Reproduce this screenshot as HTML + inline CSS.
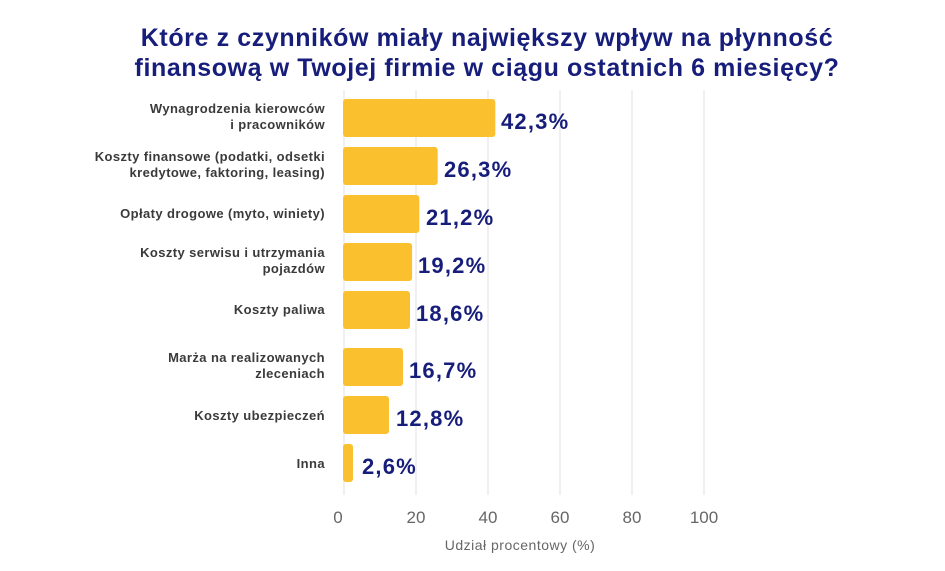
<!DOCTYPE html>
<html><head><meta charset="utf-8"><style>
body{margin:0;background:#fff;width:945px;height:566px;overflow:hidden;font-family:"Liberation Sans",sans-serif;}
</style></head><body>
<svg width="945" height="566" xmlns="http://www.w3.org/2000/svg" font-family="Liberation Sans, sans-serif">
<text x="487" y="46" text-anchor="middle" font-size="25" font-weight="bold" fill="#161d7a" letter-spacing="0.6">Które z czynników miały największy wpływ na płynność</text>
<text x="487" y="76" text-anchor="middle" font-size="25" font-weight="bold" fill="#161d7a" letter-spacing="0.6">finansową w Twojej firmie w ciągu ostatnich 6 miesięcy?</text>
<g stroke="#ececec" stroke-width="1.5">
<line x1="344" y1="90" x2="344" y2="495"/><line x1="416" y1="90" x2="416" y2="495"/><line x1="488" y1="90" x2="488" y2="495"/><line x1="560" y1="90" x2="560" y2="495"/><line x1="632" y1="90" x2="632" y2="495"/><line x1="704" y1="90" x2="704" y2="495"/>
</g>
<g fill="#fbc02d">
<rect x="343" y="99" width="152.3" height="38" rx="3"/>
<rect x="343" y="147" width="94.7" height="38" rx="3"/>
<rect x="343" y="195" width="76.3" height="38" rx="3"/>
<rect x="343" y="243" width="69.1" height="38" rx="3"/>
<rect x="343" y="291" width="67" height="38" rx="3"/>
<rect x="343" y="348" width="60" height="38" rx="3"/>
<rect x="343" y="396" width="46" height="38" rx="3"/>
<rect x="343" y="444" width="10" height="38" rx="3"/>
</g>
<g font-size="22" font-weight="bold" fill="#161d7a" letter-spacing="1.2">
<text x="501" y="129">42,3%</text>
<text x="444" y="177">26,3%</text>
<text x="426" y="225">21,2%</text>
<text x="418" y="273">19,2%</text>
<text x="416" y="321">18,6%</text>
<text x="409" y="378">16,7%</text>
<text x="396" y="426">12,8%</text>
<text x="362" y="474">2,6%</text>
</g>
<g font-size="13" font-weight="bold" fill="#3a3a3a" text-anchor="end" letter-spacing="0.4">
<text x="325" y="113">Wynagrodzenia kierowców</text>
<text x="325" y="129">i pracowników</text>
<text x="325" y="161">Koszty finansowe (podatki, odsetki</text>
<text x="325" y="177">kredytowe, faktoring, leasing)</text>
<text x="325" y="218">Opłaty drogowe (myto, winiety)</text>
<text x="325" y="257">Koszty serwisu i utrzymania</text>
<text x="325" y="273">pojazdów</text>
<text x="325" y="314">Koszty paliwa</text>
<text x="325" y="362">Marża na realizowanych</text>
<text x="325" y="378">zleceniach</text>
<text x="325" y="420">Koszty ubezpieczeń</text>
<text x="325" y="468">Inna</text>
</g>
<g font-size="17" fill="#666" text-anchor="middle">
<text x="338" y="523">0</text><text x="416" y="523">20</text><text x="488" y="523">40</text><text x="560" y="523">60</text><text x="632" y="523">80</text><text x="704" y="523">100</text>
</g>
<text x="520" y="550" text-anchor="middle" font-size="14" fill="#666" letter-spacing="0.5">Udział procentowy (%)</text>
</svg>
</body></html>
